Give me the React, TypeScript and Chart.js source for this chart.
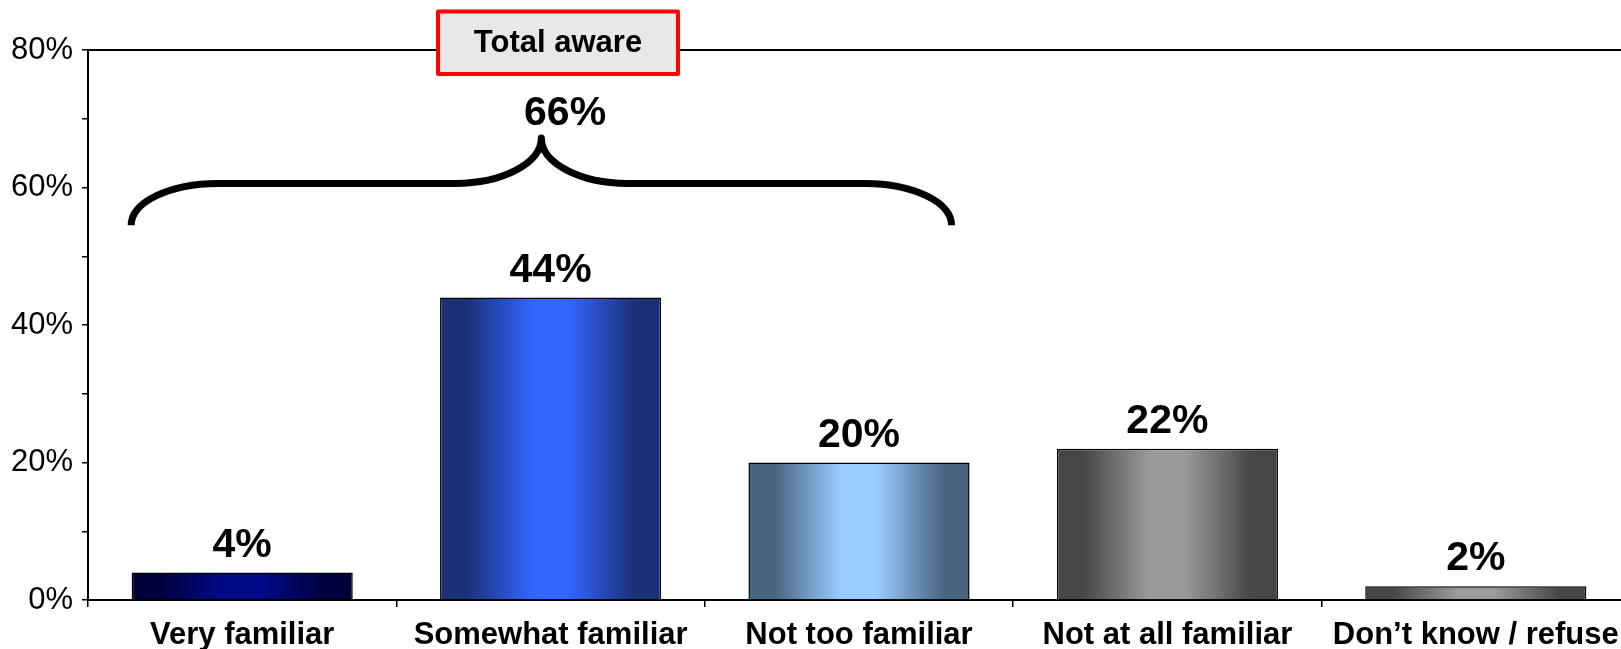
import React, { useEffect, useRef } from 'react';
import { Chart, registerables } from 'chart.js';

Chart.register(...registerables);

// ---- data ----
const categories = ['Very familiar', 'Somewhat familiar', 'Not too familiar', 'Not at all familiar', 'Don\u2019t know / refuse'];
const values = [4, 44, 20, 22, 2];
const valueLabels = ['4%', '44%', '20%', '22%', '2%'];
const yTickValues = [0, 20, 40, 60, 80];
const barEdgeColors = ['#00003c', '#1b3077', '#4a6582', '#464646', '#464646'];
const barCenterColors = ['#000a86', '#3366ff', '#99ccff', '#9a9a9a', '#9c9c9c'];
const totalAwareTitle = 'Total aware';
const totalAwareValue = '66%';

// ---- annotation geometry (category / value units) ----
const braceX = { start: -0.36, peak: 0.97, end: 2.3, rx: 0.28 };
const braceY = { end: 54.5, bar: 60.6, peak: 67.2 };
const boxX = { left: 0.635, right: 1.413 };
const boxY = { top: 85.6, bottom: 76.5 };
const totalValuePos = { x: 1.047, y: 70.8 };

const FONT = "'Liberation Sans', Arial, Helvetica, sans-serif";

const annotationPlugin = {
  id: 'annot',
  beforeDatasetsDraw(chart: any) {
    const { ctx, chartArea } = chart;
    ctx.save();
    ctx.strokeStyle = '#000';
    ctx.lineWidth = 2;
    ctx.beginPath();
    ctx.moveTo(chartArea.left, chartArea.top);
    ctx.lineTo(chart.width, chartArea.top);
    ctx.stroke();
    ctx.restore();
  },
  afterDatasetsDraw(chart: any) {
    const { ctx } = chart;
    const xs = chart.scales.x;
    const ys = chart.scales.y;
    const meta = chart.getDatasetMeta(0);
    ctx.save();
    // value labels
    ctx.fillStyle = '#000';
    ctx.font = `bold 41px ${FONT}`;
    ctx.textAlign = 'center';
    ctx.textBaseline = 'alphabetic';
    meta.data.forEach((el: any, i: number) => {
      ctx.fillText(valueLabels[i], el.x, el.y - 16);
    });

    // brace
    const xL = xs.getPixelForValue(braceX.start);
    const xR = xs.getPixelForValue(braceX.end);
    const xC = xs.getPixelForValue(braceX.peak);
    const rx = xs.getPixelForValue(braceX.rx) - xs.getPixelForValue(0);
    const yE = ys.getPixelForValue(braceY.end);
    const yH = ys.getPixelForValue(braceY.bar);
    const yP = ys.getPixelForValue(braceY.peak);
    const k = 0.5523;
    ctx.strokeStyle = '#000';
    ctx.lineWidth = 7;
    ctx.lineJoin = 'round';
    ctx.lineCap = 'butt';
    ctx.beginPath();
    ctx.moveTo(xL, yE);
    ctx.bezierCurveTo(xL, yE - k * (yE - yH), xL + rx - k * rx, yH, xL + rx, yH);
    ctx.lineTo(xC - rx, yH);
    ctx.bezierCurveTo(xC - rx + k * rx, yH, xC, yP + k * (yH - yP), xC, yP);
    ctx.bezierCurveTo(xC, yP + k * (yH - yP), xC + rx - k * rx, yH, xC + rx, yH);
    ctx.lineTo(xR - rx, yH);
    ctx.bezierCurveTo(xR - rx + k * rx, yH, xR, yE - k * (yE - yH), xR, yE);
    ctx.stroke();

    // total value
    ctx.font = `bold 41px ${FONT}`;
    ctx.textBaseline = 'middle';
    ctx.fillText(totalAwareValue, xs.getPixelForValue(totalValuePos.x), ys.getPixelForValue(totalValuePos.y));

    // box
    const bl = xs.getPixelForValue(boxX.left);
    const br = xs.getPixelForValue(boxX.right);
    const bt = ys.getPixelForValue(boxY.top);
    const bb = ys.getPixelForValue(boxY.bottom);
    ctx.fillStyle = '#e8e8e8';
    ctx.fillRect(bl, bt, br - bl, bb - bt);
    ctx.strokeStyle = '#ff0000';
    ctx.lineWidth = 4;
    ctx.strokeRect(bl, bt, br - bl, bb - bt);
    ctx.fillStyle = '#000';
    ctx.font = `bold 31px ${FONT}`;
    ctx.textBaseline = 'middle';
    ctx.fillText(totalAwareTitle, (bl + br) / 2, (bt + bb) / 2 + 1);
    ctx.restore();
  },
};

const BAR_PCT = 0.717;

function barGradient(c: any) {
  const chart = c.chart;
  const i = c.dataIndex;
  const xs = chart.scales && chart.scales.x;
  if (!chart.chartArea || !xs || i === undefined) return barCenterColors[i || 0];
  const cx = xs.getPixelForValue(i);
  const half = (xs.width / categories.length) * BAR_PCT / 2;
  const g = chart.ctx.createLinearGradient(cx - half, 0, cx + half, 0);
  g.addColorStop(0, barEdgeColors[i]);
  g.addColorStop(0.12, barEdgeColors[i]);
  g.addColorStop(0.42, barCenterColors[i]);
  g.addColorStop(0.58, barCenterColors[i]);
  g.addColorStop(0.88, barEdgeColors[i]);
  g.addColorStop(1, barEdgeColors[i]);
  return g;
}

export default function App() {
  const ref = useRef<HTMLCanvasElement>(null);
  useEffect(() => {
    if (!ref.current) return;
    const chart = new Chart(ref.current, {
      type: 'bar',
      data: {
        labels: categories,
        datasets: [
          {
            data: values,
            backgroundColor: barGradient as any,
            borderColor: '#000',
            borderWidth: 1.5,
            categoryPercentage: 1,
            barPercentage: BAR_PCT,
          },
        ],
      },
      options: {
        responsive: false,
        animation: false,
        devicePixelRatio: 1,
        layout: { padding: { top: 50, right: 0, bottom: 0, left: 0 } },
        plugins: { legend: { display: false }, tooltip: { enabled: false } },
        scales: {
          x: {
            afterFit: (s: any) => { s.height = 49; },
            grid: { display: true, offset: true, drawOnChartArea: false, drawTicks: true, tickLength: 7, color: '#000', lineWidth: 1.5 },
            border: { display: true, color: '#000', width: 2 },
            ticks: { color: '#000', font: { family: FONT, size: 31, weight: 'bold' }, padding: 10, maxRotation: 0, autoSkip: false },
          },
          y: {
            min: 0,
            max: 80,
            afterFit: (s: any) => { s.width = 88; },
            grid: { display: true, drawOnChartArea: false, drawTicks: true, tickLength: 6, color: '#000', lineWidth: 1.5 },
            border: { display: true, color: '#000', width: 2 },
            ticks: {
              stepSize: 5,
              color: '#000',
              padding: 9,
              font: { family: FONT, size: 31 },
              callback: (v: any) => (yTickValues.includes(Number(v)) ? `${v}%` : ''),
            },
          },
        },
      },
      plugins: [annotationPlugin],
    });
    return () => chart.destroy();
  }, []);
  return (
    <div style={{ position: 'fixed', left: 0, top: 0, width: '100vw', height: '100vh', overflow: 'hidden', background: '#fff' }}>
      <canvas ref={ref} width={1630} height={649} style={{ display: 'block' }} />
    </div>
  );
}
